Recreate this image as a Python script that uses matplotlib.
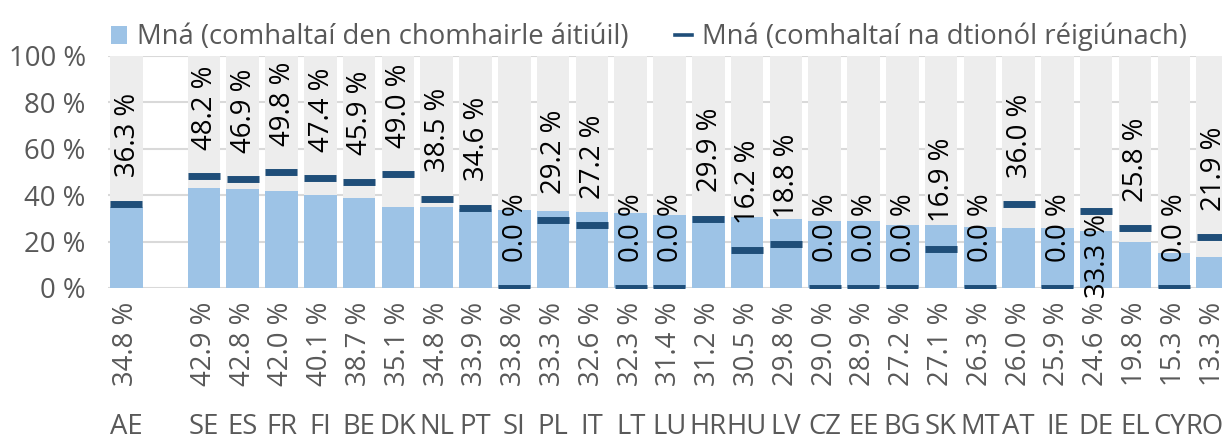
import numpy as np
import matplotlib
matplotlib.use("Agg")
import matplotlib.pyplot as plt
from matplotlib.patches import Patch
from matplotlib.lines import Line2D

plt.rcParams['font.family'] = ['Open Sans', 'DejaVu Sans']

countries = ["AE", "", "SE", "ES", "FR", "FI", "BE", "DK", "NL", "PT", "SI", "PL", "IT",
             "LT", "LU", "HR", "HU", "LV", "CZ", "EE", "BG", "SK", "MT", "AT", "IE",
             "DE", "EL", "CY", "RO"]
local = [34.8, np.nan, 42.9, 42.8, 42.0, 40.1, 38.7, 35.1, 34.8, 33.9, 33.8, 33.3, 32.6,
         32.3, 31.4, 31.2, 30.5, 29.8, 29.0, 28.9, 27.2, 27.1, 26.3, 26.0, 25.9,
         24.6, 19.8, 15.3, 13.3]
regional = [36.3, np.nan, 48.2, 46.9, 49.8, 47.4, 45.9, 49.0, 38.5, 34.6, 0.0, 29.2, 27.2,
            0.0, 0.0, 29.9, 16.2, 18.8, 0.0, 0.0, 0.0, 16.9, 0.0, 36.0, 0.0,
            33.3, 25.8, 0.0, 21.9]
label_below = ["DE"]

light = "#9DC3E6"
dark = "#1F4E79"
grey_bg = "#EDEDED"
txt = "#595959"
fs = 19.8

fig = plt.figure(figsize=(12.22, 4.4), dpi=100)
ax = fig.add_axes([108/1222, 152/440, 1124/1222, 232/440])

x = np.arange(len(countries))
has = np.array([c != "" for c in countries])
w = 0.84

ax.bar(x[has], [100]*has.sum(), width=w, color=grey_bg, zorder=1)
ax.bar(x, local, width=w, color=light, zorder=2)
ax.plot(x, regional, linestyle="none", marker="_", markersize=23,
        markeredgewidth=5, color=dark, zorder=3)

# the last two country labels are squeezed inside the figure, as in the original
shift = {"CY": -3, "RO": -6}

for xi, c, lv, rv in zip(x, countries, local, regional):
    if c == "":
        continue
    if c in label_below:
        ax.annotate(f"{rv:.1f} %", (xi, rv), xytext=(1.5, -2), textcoords="offset points",
                    rotation=90, ha="center", va="top", fontsize=fs, color="black",
                    zorder=4, annotation_clip=False)
    else:
        ax.annotate(f"{rv:.1f} %", (xi, rv), xytext=(1, 19), textcoords="offset points",
                    rotation=90, ha="center", va="bottom", fontsize=fs, color="black",
                    zorder=4)
    ax.annotate(f"{lv:.1f} %", (xi, 0), xytext=(0, -10), textcoords="offset points",
                rotation=90, ha="center", va="top", fontsize=fs, color=txt,
                annotation_clip=False)
    ax.annotate(c, (xi, 0), xytext=(shift.get(c, 0), -90), textcoords="offset points",
                ha="center", va="top", fontsize=fs, color=txt, annotation_clip=False)

ax.set_xlim(-0.47, len(countries) - 0.5)
ax.set_ylim(0, 100)
ax.set_yticks(np.arange(0, 101, 20))
ax.set_yticklabels([f"{v} %" for v in range(0, 101, 20)], fontsize=fs, color=txt)
ax.set_xticks([])
ax.tick_params(axis="y", length=0, pad=16)
ax.grid(axis="y", color="#D9D9D9", linewidth=1.5, zorder=0)
ax.set_axisbelow(True)
for s in ax.spines.values():
    s.set_visible(False)

handles = [Patch(facecolor=light, edgecolor="none"),
           Line2D([], [], color=dark, linewidth=2.6)]
labels = ["Mná (comhaltaí den chomhairle áitiúil)", "Mná (comhaltaí na dtionól réigiúnach)"]
fig.legend(handles, labels, loc="upper left", bbox_to_anchor=(86/1222, 1.004), ncol=2,
           frameon=False, fontsize=fs, labelcolor=txt, handlelength=0.6, handleheight=0.6,
           handletextpad=0.36, columnspacing=1.7)

fig.savefig("out.png", dpi=100)
